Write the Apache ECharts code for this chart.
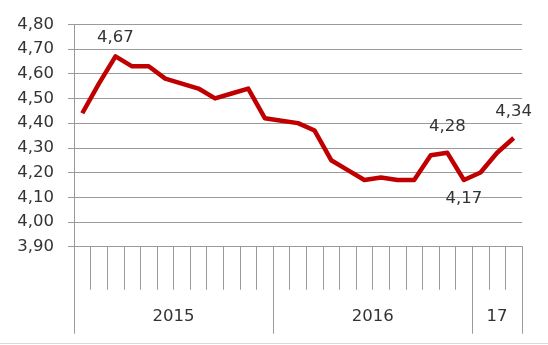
<!DOCTYPE html>
<html>
<head>
<meta charset="utf-8">
<script src="https://cdn.jsdelivr.net/npm/echarts@6/dist/echarts.min.js"></script>
<style>html,body{margin:0;padding:0;background:#fff}#c{width:548px;height:345px}</style>
</head>
<body>
<div id="c"></div>
<script>
// Monthly values Jan 2015 .. Mar 2017
const months = ['I','II','III','IV','V','VI','VII','VIII','IX','X','XI','XII',
                'I','II','III','IV','V','VI','VII','VIII','IX','X','XI','XII',
                'I','II','III'];
const values = [4.44,4.56,4.67,4.63,4.63,4.58,4.56,4.54,4.50,4.52,4.54,4.42,
                4.41,4.40,4.37,4.25,4.21,4.17,4.18,4.17,4.17,4.27,4.28,
                4.17,4.20,4.28,4.34];
const yearLabels = ['2015','2016','17'];
const yearSpans = [12,12,3];
const labeledAbove = [2,22,26];
const labeledBelow = [23];
const yMin = 3.90, yMax = 4.80, yStep = 0.10;

const FONT = 'DejaVu Sans';
const fmt = v => v.toFixed(2).replace('.', ',');

const bounds = [0];
yearSpans.forEach(s => bounds.push(bounds[bounds.length-1] + s));
const mids = yearSpans.map((s,i) => bounds[i] + s/2);

const data = values.map((v,i) => {
  if (labeledAbove.includes(i)) {
    return {value: v, label: {show: true, position: 'top', distance: i === 2 ? 10 : 18}};
  }
  if (labeledBelow.includes(i)) {
    return {value: v, label: {show: true, position: 'bottom', distance: 10}};
  }
  return v;
});

const GRAY = '#9a9a9a';
const chart = echarts.init(document.getElementById('c'), null, {renderer: 'canvas'});
chart.setOption({
  animation: false,
  backgroundColor: '#ffffff',
  grid: {left: 74, right: 26, top: 24.3, bottom: 98.3, containLabel: false},
  xAxis: [
    {
      type: 'category',
      data: months,
      boundaryGap: true,
      axisLine: {show: true, lineStyle: {color: GRAY, width: 1}},
      axisTick: {show: true, interval: 0, length: 43, lineStyle: {color: GRAY, width: 1}},
      axisLabel: {show: false},
      splitLine: {show: false}
    },
    {
      type: 'value',
      min: 0,
      max: bounds[bounds.length-1],
      position: 'bottom',
      axisLine: {show: false},
      splitLine: {show: false},
      axisTick: {show: true, customValues: bounds, length: 87, lineStyle: {color: GRAY, width: 1}},
      axisLabel: {
        show: true,
        customValues: mids,
        margin: 62,
        fontFamily: FONT,
        fontSize: 16.5,
        color: '#333333',
        formatter: v => {
          const i = mids.findIndex(m => Math.abs(m - v) < 1e-6);
          return i >= 0 ? yearLabels[i] : '';
        }
      }
    }
  ],
  yAxis: {
    type: 'value',
    min: yMin,
    max: yMax,
    interval: yStep,
    axisLine: {show: true, lineStyle: {color: GRAY, width: 1}},
    axisTick: {show: true, length: 6, lineStyle: {color: GRAY, width: 1}},
    axisLabel: {margin: 20, fontFamily: FONT, fontSize: 16.5, color: '#333333', formatter: v => fmt(v)},
    splitLine: {show: true, lineStyle: {color: GRAY, width: 1}}
  },
  series: [{
    type: 'line',
    xAxisIndex: 0,
    data: data,
    showSymbol: true,
    symbol: 'circle',
    symbolSize: 0,
    lineStyle: {color: '#C00000', width: 4.5, join: 'round'},
    itemStyle: {color: '#C00000'},
    label: {show: false, fontFamily: FONT, fontSize: 16.5, color: '#333333', formatter: p => fmt(p.value)}
  }],
  graphic: [{
    type: 'line',
    shape: {x1: 0, y1: 343.5, x2: 548, y2: 343.5},
    style: {stroke: '#d9d9d9', lineWidth: 1},
    silent: true
  }]
});
</script>
</body>
</html>
